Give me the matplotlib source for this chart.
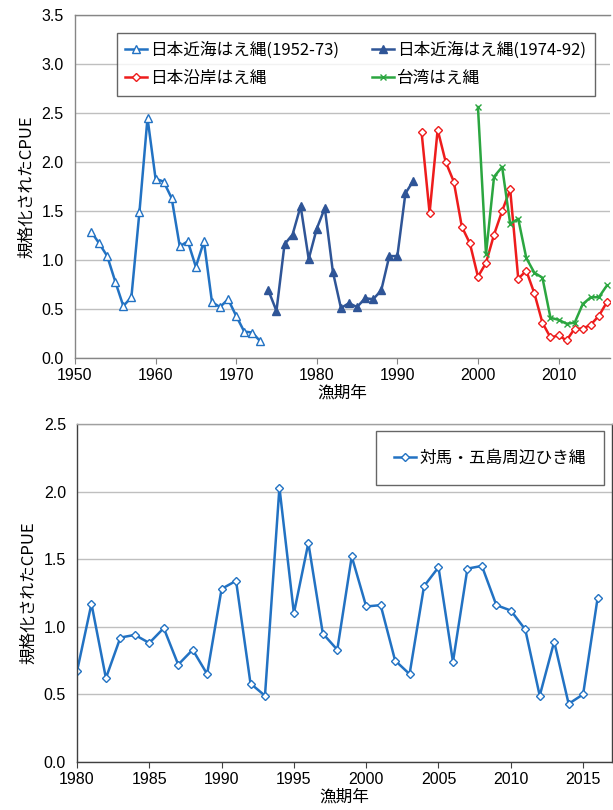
import matplotlib
matplotlib.use("Agg")
import matplotlib.pyplot as plt
import numpy as np

plt.rcParams['font.family'] = ['Liberation Sans', 'Noto Sans CJK JP', 'DejaVu Sans']
jp = ['Noto Sans CJK JP', 'DejaVu Sans']

# --- top chart data ---
yr_kinkai1 = list(range(1952, 1974))
cpue_kinkai1 = [1.29, 1.17, 1.04, 0.78, 0.53, 0.62, 1.49, 2.45, 1.83, 1.80, 1.63,
                1.14, 1.19, 0.93, 1.19, 0.57, 0.52, 0.60, 0.43, 0.27, 0.26, 0.17]

yr_kinkai2 = list(range(1974, 1993))
cpue_kinkai2 = [0.69, 0.48, 1.16, 1.26, 1.55, 1.01, 1.32, 1.53, 0.88, 0.51, 0.56,
                0.52, 0.61, 0.60, 0.69, 1.04, 1.04, 1.68, 1.81]

yr_engan = list(range(1993, 2017))
cpue_engan = [2.31, 1.48, 2.33, 2.00, 1.80, 1.34, 1.17, 0.83, 0.97, 1.26, 1.50, 1.72,
              0.81, 0.89, 0.66, 0.36, 0.21, 0.23, 0.18, 0.30, 0.30, 0.34, 0.43, 0.57]

yr_taiwan = list(range(2000, 2017))
cpue_taiwan = [2.56, 1.06, 1.85, 1.95, 1.37, 1.42, 1.02, 0.87, 0.82, 0.41, 0.39,
               0.35, 0.36, 0.55, 0.62, 0.62, 0.74]

# --- bottom chart data ---
yr_hikinawa = list(range(1980, 2017))
cpue_hikinawa = [0.67, 1.17, 0.62, 0.92, 0.94, 0.88, 0.99, 0.72, 0.83, 0.65, 1.28,
                 1.34, 0.58, 0.49, 2.03, 1.10, 1.62, 0.95, 0.83, 1.52, 1.15, 1.16,
                 0.75, 0.65, 1.30, 1.44, 0.74, 1.43, 1.45, 1.16, 1.12, 0.98, 0.49,
                 0.89, 0.43, 0.50, 1.21]

c_light = '#2272C3'
c_dark = '#2F5597'
c_red = '#EE1C1C'
c_green = '#2BA640'

fig = plt.figure(figsize=(6.13, 8.10), dpi=100)

# ===== top =====
ax1 = fig.add_axes([0.1223, 0.558, 0.873, 0.4235])
ax1.plot(yr_kinkai1, cpue_kinkai1, '-^', color=c_light, lw=1.8, ms=5.5,
         mfc='white', mec=c_light, mew=1.0, label='日本近海はえ縄(1952-73)')
ax1.plot(yr_engan, cpue_engan, '-D', color=c_red, lw=1.8, ms=4.5,
         mfc='white', mec=c_red, mew=1.0, label='日本沿岸はえ縄')
ax1.plot(yr_kinkai2, cpue_kinkai2, '-^', color=c_dark, lw=1.8, ms=5.5,
         mfc=c_dark, mec=c_dark, label='日本近海はえ縄(1974-92)')
ax1.plot(yr_taiwan, cpue_taiwan, '-x', color=c_green, lw=1.8, ms=4.5,
         mew=1.0, label='台湾はえ縄')

ax1.set_xlim(1950, 2016.4)
ax1.set_ylim(0, 3.5)
ax1.set_xticks(np.arange(1950, 2011, 10))
ax1.set_yticks(np.arange(0, 3.51, 0.5))
ax1.set_yticklabels(['%.1f' % v for v in np.arange(0, 3.51, 0.5)])
ax1.yaxis.grid(True, color='#BFBFBF', lw=1.0)
ax1.set_axisbelow(True)
for s in ax1.spines.values():
    s.set_color('#868686')
    s.set_linewidth(1.0)
ax1.spines['right'].set_visible(False)
ax1.tick_params(axis='y', length=0, labelsize=11.5, pad=8)
ax1.tick_params(axis='x', direction='out', length=4, color='#868686', labelsize=11.5)
ax1.set_xlabel('漁期年', fontsize=12, labelpad=1, family=jp)
ax1.set_ylabel('規格化されたCPUE', fontsize=12, labelpad=5, family=jp)
leg1 = ax1.legend(loc='upper left', bbox_to_anchor=(0.078, 0.9475), ncol=2,
                  prop={'family': jp, 'size': 12}, frameon=True, fancybox=False,
                  edgecolor='#404040', handlelength=1.3, handletextpad=0.2,
                  columnspacing=2.0, borderpad=0.5, labelspacing=0.7,
                  borderaxespad=0)
leg1.get_frame().set_linewidth(1.0)

# ===== bottom =====
ax2 = fig.add_axes([0.1256, 0.0593, 0.8728, 0.4173])
ax2.plot(yr_hikinawa, cpue_hikinawa, '-D', color=c_light, lw=1.8, ms=4.5,
         mfc='white', mec=c_light, mew=1.0, label='対馬・五島周辺ひき縄')
ax2.set_xlim(1980, 2017)
ax2.set_ylim(0, 2.5)
ax2.set_xticks(np.arange(1980, 2016, 5))
ax2.set_yticks(np.arange(0, 2.51, 0.5))
ax2.set_yticklabels(['%.1f' % v for v in np.arange(0, 2.51, 0.5)])
ax2.yaxis.grid(True, color='#BFBFBF', lw=1.0)
ax2.set_axisbelow(True)
for s in ax2.spines.values():
    s.set_color('#404040')
    s.set_linewidth(1.0)
ax2.spines['top'].set_color('#A0A0A0')
ax2.tick_params(axis='y', length=0, labelsize=11.5, pad=8)
ax2.tick_params(axis='x', direction='out', length=4, color='#404040', labelsize=11.5)
ax2.set_xlabel('漁期年', fontsize=12, labelpad=1, family=jp)
ax2.set_ylabel('規格化されたCPUE', fontsize=12, labelpad=5, family=jp)
leg2 = ax2.legend(loc='upper right', bbox_to_anchor=(0.985, 0.979),
                  prop={'family': jp, 'size': 12}, frameon=True, fancybox=False,
                  edgecolor='#404040', handlelength=1.3, handletextpad=0.2,
                  borderpad=1.1, borderaxespad=0)
leg2.get_frame().set_linewidth(1.0)

plt.savefig('out.png', dpi=100)
